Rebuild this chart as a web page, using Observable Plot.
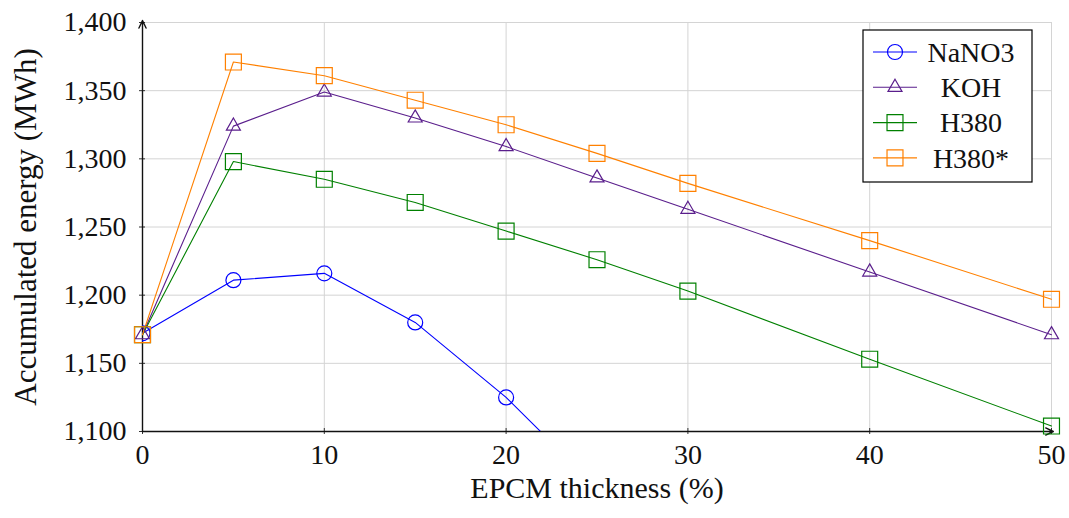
<!DOCTYPE html>
<html>
<head>
<meta charset="utf-8">
<script src="https://cdn.jsdelivr.net/npm/d3@7"></script>
<script src="https://cdn.jsdelivr.net/npm/@observablehq/plot@0.6"></script>
<style>
  html, body { margin: 0; padding: 0; background: #fff; }
  #chart { position: relative; width: 1069px; height: 518px; }
</style>
</head>
<body>
<div id="chart"></div>
<script>
// ---- Data ----
const seriesNames = ["NaNO3", "KOH", "H380", "H380*"];
const xNaNO3 = [0, 5, 10, 15, 20, 25];
const yNaNO3 = [1172, 1211, 1216, 1180, 1125, 1059];
const xOther = [0, 5, 10, 15, 20, 25, 30, 40, 50];
const yKOH   = [1171, 1324, 1349, 1330, 1309, 1286, 1263, 1217, 1171];
const yH380  = [1171, 1298, 1285, 1268, 1247, 1226, 1203, 1153, 1104];
const yH380s = [1171, 1371, 1361, 1343, 1325, 1304, 1282, 1240, 1197];
const xTicks = [0, 10, 20, 30, 40, 50];
const yTicks = [1100, 1150, 1200, 1250, 1300, 1350, 1400];
const colors  = ["#0000ff", "#5a1e8c", "#008000", "#ff8000"];
const symbols = ["circle", "triangle", "square", "square"];
const radii   = [7.5, 5.2, 9, 9];

const series = [
  {name: seriesNames[0], xs: xNaNO3, ys: yNaNO3, clip: true},
  {name: seriesNames[1], xs: xOther, ys: yKOH, clip: false},
  {name: seriesNames[2], xs: xOther, ys: yH380, clip: false},
  {name: seriesNames[3], xs: xOther, ys: yH380s, clip: false}
];
const toRows = s => s.xs.map((x, i) => ({x, y: s.ys[i], name: s.name}));

const FONT = "'Liberation Serif', serif";

const marks = [
  Plot.gridX(xTicks, {stroke: "#d4d4d4", strokeOpacity: 1, strokeWidth: 1}),
  Plot.gridY(yTicks, {stroke: "#d4d4d4", strokeOpacity: 1, strokeWidth: 1}),
  Plot.axisX(xTicks, {tickSize: 6, dy: -3, tickPadding: 10, fontSize: 28, label: null, stroke: "#333"}),
  Plot.axisY(yTicks, {tickSize: 6, dx: 3, tickPadding: 13, fontSize: 28, label: null, tickFormat: d3.format(","), stroke: "#333"}),
  Plot.arrow([{x1: 0, x2: 50.1, y1: 1100, y2: 1100}], {x1: "x1", x2: "x2", y1: "y1", y2: "y2", stroke: "#111", strokeWidth: 1.4, headLength: 9, headAngle: 50, bend: 0}),
  Plot.arrow([{x: 0, y1: 1100, y2: 1401.5}], {x1: "x", x2: "x", y1: "y1", y2: "y2", stroke: "#111", strokeWidth: 1.4, headLength: 9, headAngle: 50, bend: 0}),
];
series.forEach((s, i) => {
  marks.push(Plot.line(toRows(s), {x: "x", y: "y", stroke: colors[i], strokeWidth: 1.1, clip: s.clip}));
});
series.forEach((s, i) => {
  marks.push(Plot.dot(toRows(s), {x: "x", y: "y", stroke: colors[i], fill: "none", strokeWidth: 1.2, symbol: symbols[i], r: radii[i], clip: s.clip}));
});
marks.push(Plot.text(["EPCM thickness (%)"], {frameAnchor: "bottom", dy: 66, fontSize: 30, textAnchor: "middle", text: d => d}));
marks.push(Plot.text(["Accumulated energy (MWh)"], {frameAnchor: "left", dx: -116, rotate: -90, fontSize: 31, textAnchor: "middle", text: d => d}));

const chart = Plot.plot({
  width: 1069,
  height: 518,
  marginLeft: 142,
  marginRight: 18,
  marginTop: 22,
  marginBottom: 87,
  style: {fontSize: "28px", color: "#111", background: "#fff", fontFamily: FONT},
  x: {domain: [0, 50]},
  y: {domain: [1100, 1400]},
  marks
});
document.getElementById("chart").appendChild(chart);

// ---- Legend ----
const svg = d3.select(chart);
const lg = svg.append("g").attr("transform", "translate(863,30)");
lg.append("rect").attr("width", 169).attr("height", 152).attr("fill", "#fff").attr("stroke", "#000").attr("stroke-width", 1.2);
seriesNames.forEach((name, i) => {
  const cy = 22 + i * 35.3;
  lg.append("line").attr("x1", 10).attr("x2", 54).attr("y1", cy).attr("y2", cy).attr("stroke", colors[i]).attr("stroke-width", 1.1);
  lg.append("path")
    .attr("d", d3.symbol(symbols[i] === "circle" ? d3.symbolCircle : symbols[i] === "triangle" ? d3.symbolTriangle : d3.symbolSquare, Math.PI * radii[i] * radii[i])())
    .attr("transform", `translate(32,${cy})`)
    .attr("fill", "none").attr("stroke", colors[i]).attr("stroke-width", 1.2);
  lg.append("text").attr("x", 108).attr("y", cy).attr("dy", "0.35em").attr("text-anchor", "middle")
    .attr("font-size", 28).attr("fill", "#111").text(name);
});
</script>
</body>
</html>
